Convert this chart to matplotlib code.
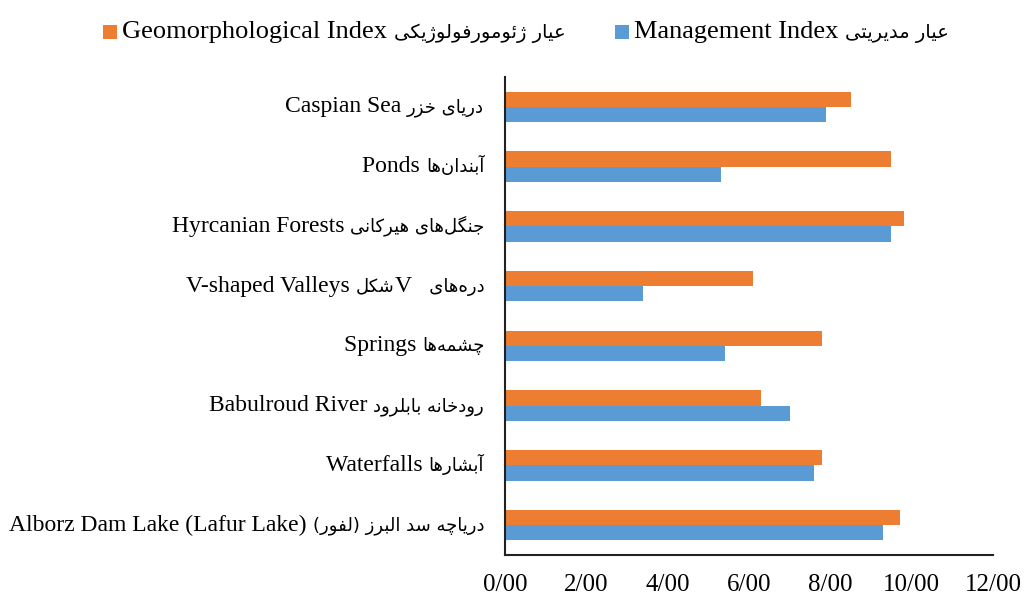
import matplotlib
matplotlib.use('Agg')
from matplotlib import pyplot as plt
from matplotlib.ticker import FuncFormatter
from matplotlib.offsetbox import TextArea, HPacker, DrawingArea, AnnotationBbox
from matplotlib.patches import Rectangle

plt.rcParams['font.family'] = ['Liberation Serif', 'DejaVu Sans']

# matplotlib does no arabic shaping, so map letters to presentation forms by hand
# (isolated, final, initial, medial)
FORMS = {
    '\u0627': ('\uFE8D', '\uFE8E', None, None),
    '\u0622': ('\uFE81', '\uFE82', None, None),
    '\u0628': ('\uFE8F', '\uFE90', '\uFE91', '\uFE92'),
    '\u062A': ('\uFE95', '\uFE96', '\uFE97', '\uFE98'),
    '\u062C': ('\uFE9D', '\uFE9E', '\uFE9F', '\uFEA0'),
    '\u0686': ('\uFB7A', '\uFB7B', '\uFB7C', '\uFB7D'),
    '\u062E': ('\uFEA5', '\uFEA6', '\uFEA7', '\uFEA8'),
    '\u062F': ('\uFEA9', '\uFEAA', None, None),
    '\u0631': ('\uFEAD', '\uFEAE', None, None),
    '\u0632': ('\uFEAF', '\uFEB0', None, None),
    '\u0698': ('\uFB8A', '\uFB8B', None, None),
    '\u0633': ('\uFEB1', '\uFEB2', '\uFEB3', '\uFEB4'),
    '\u0634': ('\uFEB5', '\uFEB6', '\uFEB7', '\uFEB8'),
    '\u0639': ('\uFEC9', '\uFECA', '\uFECB', '\uFECC'),
    '\u0641': ('\uFED1', '\uFED2', '\uFED3', '\uFED4'),
    '\u06A9': ('\uFB8E', '\uFB8F', '\uFB90', '\uFB91'),
    '\u06AF': ('\uFB92', '\uFB93', '\uFB94', '\uFB95'),
    '\u0644': ('\uFEDD', '\uFEDE', '\uFEDF', '\uFEE0'),
    '\u0645': ('\uFEE1', '\uFEE2', '\uFEE3', '\uFEE4'),
    '\u0646': ('\uFEE5', '\uFEE6', '\uFEE7', '\uFEE8'),
    '\u0647': ('\uFEE9', '\uFEEA', '\uFEEB', '\uFEEC'),
    '\u0648': ('\uFEED', '\uFEEE', None, None),
    '\u06CC': ('\uFBFC', '\uFBFD', '\uFBFE', '\uFBFF'),
    '\u0626': ('\uFE89', '\uFE8A', '\uFE8B', '\uFE8C'),
}


def fa(s):
    s = s.replace('\u064A', '\u06CC').replace('\u0643', '\u06A9')
    out = []
    for i, ch in enumerate(s):
        f = FORMS.get(ch)
        if f is None:
            out.append(ch)
            continue
        prev = s[i - 1] if i > 0 else ''
        nxt = s[i + 1] if i + 1 < len(s) else ''
        p = prev in FORMS and FORMS[prev][2] is not None
        n = f[2] is not None and nxt in FORMS
        idx = 3 if (p and n) else 1 if p else 2 if n else 0
        out.append(f[idx])
    vis = ''.join(c for c in reversed(out) if c != '\u200c')
    return vis.translate(str.maketrans('()', ')('))


# categories top to bottom, each as visual-order pieces (text, is_persian)
categories = [
    [('Caspian Sea ', False), (fa('دریای خزر'), True)],
    [('Ponds ', False), (fa('\u0622بندان\u200cها'), True)],
    [('Hyrcanian Forests ', False), (fa('جنگل\u200cهای هیرکانی'), True)],
    [('V-shaped Valleys ', False), (fa('شکل'), True), ('V', False), ('   ' + fa('دره\u200cهای'), True)],
    [('Springs ', False), (fa('چشمه\u200cها'), True)],
    [('Babulroud River ', False), (fa('رودخانه بابلرود'), True)],
    [('Waterfalls ', False), (fa('\u0622بشارها'), True)],
    [('Alborz Dam Lake (Lafur Lake) ', False), (fa('دریاچه سد البرز (لفور)'), True)],
]
geomorph = [8.5, 9.5, 9.8, 6.1, 7.8, 6.3, 7.8, 9.7]
management = [7.9, 5.3, 9.5, 3.4, 5.4, 7.0, 7.6, 9.3]

series = [
    [('Geomorphological Index ', False), (fa('عیار ژئومورفولوژیکی'), True)],
    [('Management Index ', False), (fa('عیار مدیریتی'), True)],
]
colors = ['#ED7D31', '#5B9BD5']


def mixed(pieces, en_size, fa_size):
    boxes = []
    for txt, is_fa in pieces:
        if is_fa:
            props = dict(family='DejaVu Sans', fontsize=fa_size, color='black')
        else:
            props = dict(family='Liberation Serif', fontsize=en_size, color='black')
        boxes.append(TextArea(txt, textprops=props))
    return HPacker(children=boxes, align='baseline', pad=0, sep=0)


fig = plt.figure(figsize=(10.24, 5.97), dpi=100)
ax = fig.add_axes([0.4932, 0.0704, 0.4766, 0.8006])

y = list(range(len(categories)))
h = 0.257
ax.barh([v - h / 2 for v in y], geomorph, height=h, color=colors[0])
ax.barh([v + h / 2 for v in y], management, height=h, color=colors[1])

ax.set_ylim(7.5, -0.5)
ax.set_xlim(0, 12)
ax.set_xticks([0, 2, 4, 6, 8, 10, 12])
ax.xaxis.set_major_formatter(FuncFormatter(lambda v, pos: f'{v:.2f}'.replace('.', '/')))
ax.set_yticks(y)
ax.set_yticklabels([''] * len(y))
ax.tick_params(axis='x', length=0, pad=14, labelsize=18)
ax.tick_params(axis='y', length=0)

# category labels: english + persian with different sizes
for yi, pieces in zip(y, categories):
    ab = AnnotationBbox(mixed(pieces, 17, 13), (0, yi),
                        xycoords=ax.get_yaxis_transform(),
                        xybox=(-15, 0), boxcoords='offset points',
                        box_alignment=(1, 0.5), frameon=False, pad=0,
                        annotation_clip=False)
    ax.add_artist(ab)

for side in ['top', 'right']:
    ax.spines[side].set_visible(False)
for side in ['left', 'bottom']:
    ax.spines[side].set_linewidth(1.5)
    ax.spines[side].set_color('#222222')

# legend entries
for x0, pieces, c in zip([103, 615], series, colors):
    sq = DrawingArea(10, 10, 0, 0)
    sq.add_artist(Rectangle((0, 0), 10, 10, facecolor=c, edgecolor='none'))
    entry = HPacker(children=[sq, mixed(pieces, 19, 14)], align='center', pad=0, sep=4)
    fig.add_artist(AnnotationBbox(entry, (x0, 597 - 32), xycoords='figure pixels',
                                  box_alignment=(0, 0.5), frameon=False, pad=0))

plt.savefig('out.png')
